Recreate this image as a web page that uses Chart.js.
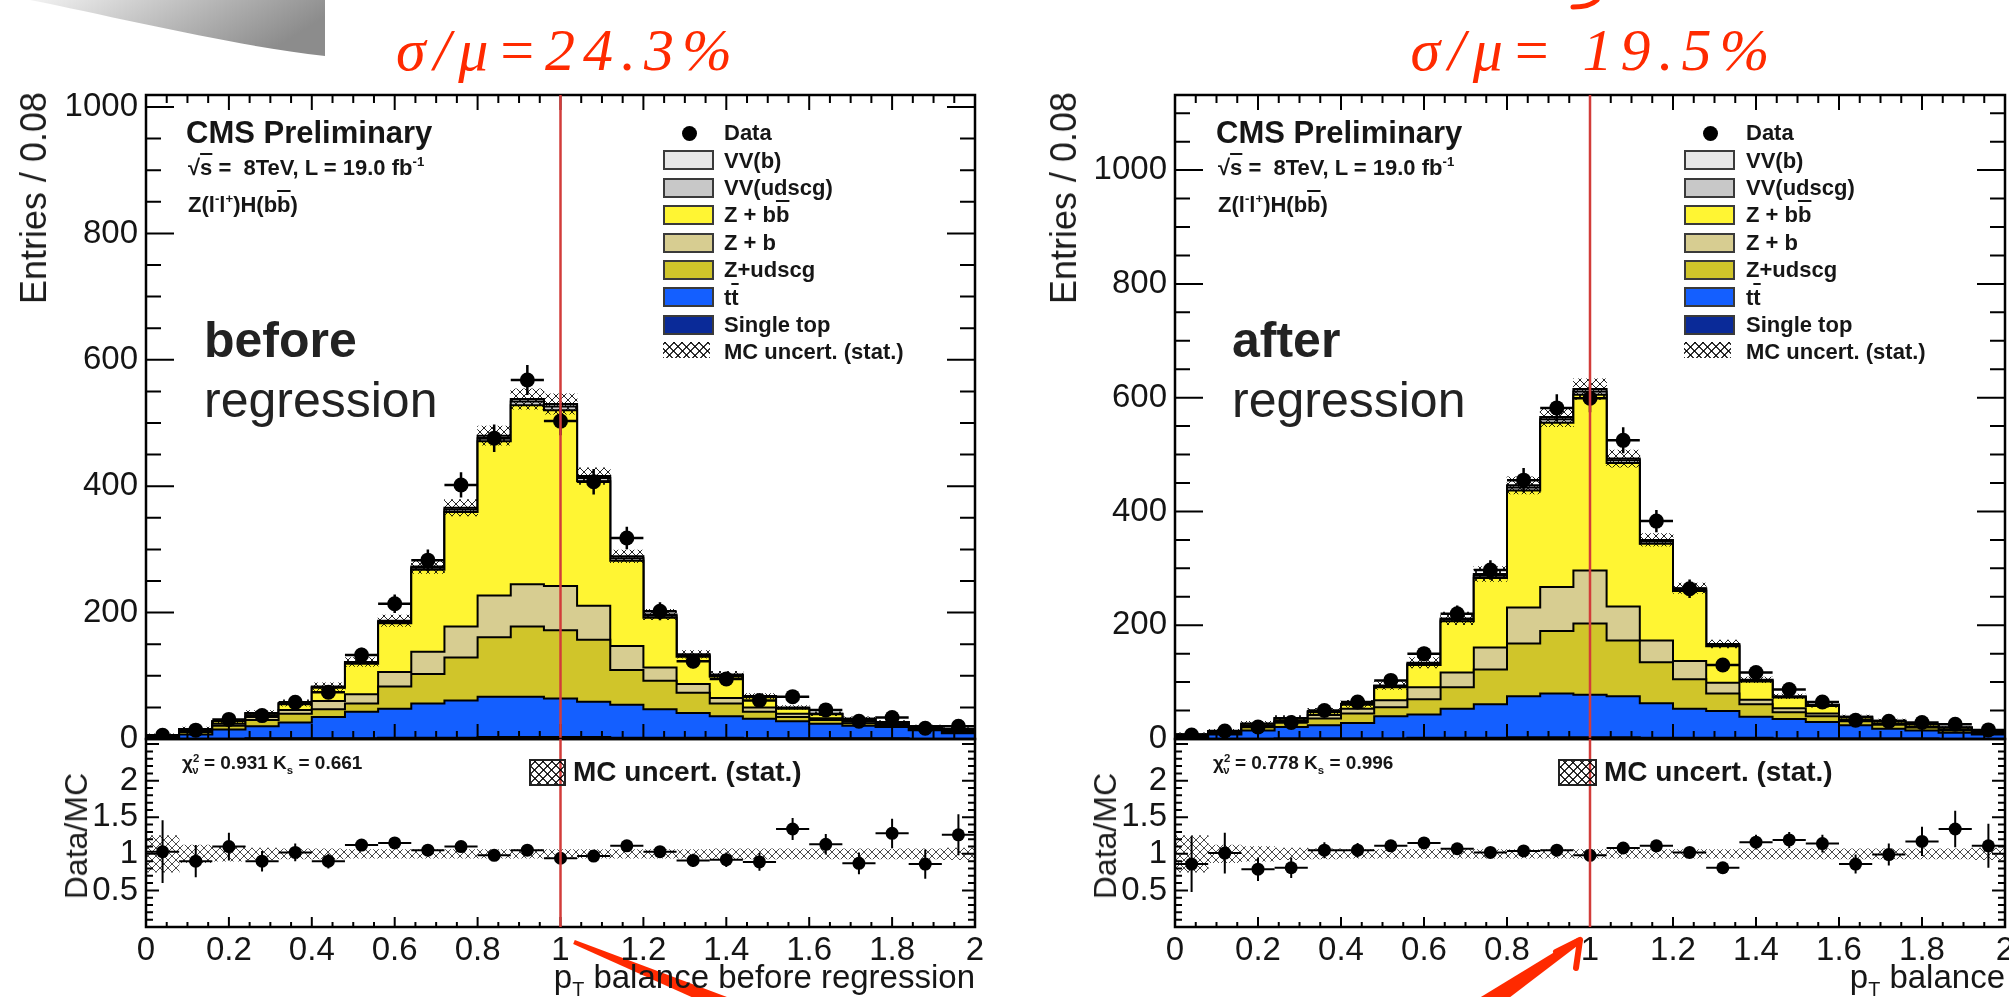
<!DOCTYPE html>
<html>
<head>
<meta charset="utf-8">
<title>pT balance before and after regression</title>
<script src="https://cdn.jsdelivr.net/npm/chart.js@4.4.1/dist/chart.umd.min.js"></script>
<style>
  html, body { margin: 0; padding: 0; background: #fff; }
  #page { position: relative; width: 2009px; height: 997px; overflow: hidden; background: #fff;
          font-family: "Liberation Sans", Arial, Helvetica, sans-serif; color: #161616; }
  #page canvas { position: absolute; }
  .txt { position: absolute; white-space: nowrap; line-height: 1; }
  .b { font-weight: bold; }
  .ov { text-decoration: overline; }
  .sup { font-size: 0.6em; position: relative; top: -0.65em; }
  .sub { font-size: 0.6em; position: relative; top: 0.4em; }
  .ytitle { position: absolute; white-space: nowrap; line-height: 1; writing-mode: vertical-rl; transform: rotate(180deg); color: #1c1c1c; }
  .swatch { position: absolute; width: 47px; height: 16px; border: 2px solid #3a3a3a; }
  .hatch { background:
      repeating-linear-gradient(45deg, rgba(0,0,0,.8) 0 1.2px, transparent 1.2px 6px),
      repeating-linear-gradient(-45deg, rgba(0,0,0,.8) 0 1.2px, transparent 1.2px 6px); }
  .dot { position: absolute; width: 15px; height: 15px; border-radius: 50%; background: #000; }
  .hand { position: absolute; width: 500px; text-align: center; line-height: 1; color: #ff2a00;
          font-family: "Liberation Serif", "DejaVu Serif", serif; font-style: italic; font-size: 60px; letter-spacing: 8px; }
  #deco { position: absolute; left: 0; top: 0; }
</style>
</head>
<body>
<div id="page">
  <svg id="deco" width="2009" height="997">
    <defs>
      <linearGradient id="curl" x1="0" y1="0" x2="1" y2="0.3">
        <stop offset="0" stop-color="#f2f2f2"/>
        <stop offset="0.6" stop-color="#b4b4b4"/>
        <stop offset="1" stop-color="#8c8c8c"/>
      </linearGradient>
    </defs>
    <path d="M30 0 L325 0 L325 56 C235 46 120 18 30 0 Z" fill="url(#curl)"/>
    <path d="M1597 0 Q1590 7 1573 7" stroke="#ff2a00" stroke-width="5" fill="none" stroke-linecap="round"/>
    <polygon points="574.8,940.1 743,1003 737,1017.4 573.2,943.9" fill="#ff2a00"/>
    <polygon points="1581.7,942.5 1490.1,1012.4 1479.9,997.6 1578.3,937.5" fill="#ff2a00"/>
    <path d="M1580 940 L1576 968 M1580 940 L1556 952" stroke="#ff2a00" stroke-width="6" fill="none" stroke-linecap="round"/>
  </svg>

  <canvas id="cUL" width="1000" height="769" style="left:0;top:0"></canvas>
  <canvas id="cLL" width="1000" height="297" style="left:0;top:700px"></canvas>
  <canvas id="cUR" width="1040" height="769" style="left:1000px;top:0"></canvas>
  <canvas id="cLR" width="1040" height="297" style="left:1000px;top:700px"></canvas>

  <div class="hand" style="left:318px;top:20px">σ/μ=24.3%</div>
  <div class="hand" style="left:1344px;top:20px">σ/μ= 19.5%</div>

  <div class="ytitle" style="left:16px;top:92px;font-size:36px">Entries / 0.08</div>
  <div class="ytitle" style="left:60px;top:773px;font-size:32px">Data/MC</div>
  <div class="ytitle" style="left:1046px;top:92px;font-size:36px">Entries / 0.08</div>
  <div class="ytitle" style="left:1089px;top:773px;font-size:32px">Data/MC</div>

  <div class="txt b" style="left:186px;top:117px;font-size:31px">CMS Preliminary</div>
  <div class="txt b" style="left:188px;top:157px;font-size:22px">√<span class="ov">s</span> =&nbsp; 8TeV, L = 19.0 fb<span class="sup">-1</span></div>
  <div class="txt b" style="left:188px;top:194px;font-size:22px">Z(l<span class="sup">-</span>l<span class="sup">+</span>)H(b<span class="ov">b</span>)</div>
  <div class="txt b" style="left:204px;top:315px;font-size:50px;color:#222">before</div>
  <div class="txt" style="left:204px;top:375px;font-size:50px;color:#222">regression</div>

  <div class="txt b" style="left:1216px;top:117px;font-size:31px">CMS Preliminary</div>
  <div class="txt b" style="left:1218px;top:157px;font-size:22px">√<span class="ov">s</span> =&nbsp; 8TeV, L = 19.0 fb<span class="sup">-1</span></div>
  <div class="txt b" style="left:1218px;top:194px;font-size:22px">Z(l<span class="sup">-</span>l<span class="sup">+</span>)H(b<span class="ov">b</span>)</div>
  <div class="txt b" style="left:1232px;top:315px;font-size:50px;color:#222">after</div>
  <div class="txt" style="left:1232px;top:375px;font-size:50px;color:#222">regression</div>

  <div class="txt b" style="left:182px;top:753px;font-size:19px">χ<span class="sup">2</span><span class="sub" style="margin-left:-7px">ν</span> = 0.931 K<span class="sub">s</span> = 0.661</div>
  <div class="swatch hatch" style="left:529px;top:759px;width:33px;height:23px;border-width:2px;border-color:#222"></div>
  <div class="txt b" style="left:573px;top:758px;font-size:28px">MC uncert. (stat.)</div>

  <div class="txt b" style="left:1213px;top:753px;font-size:19px">χ<span class="sup">2</span><span class="sub" style="margin-left:-7px">ν</span> = 0.778 K<span class="sub">s</span> = 0.996</div>
  <div class="swatch hatch" style="left:1558px;top:759px;width:35px;height:23px;border-width:2px;border-color:#222"></div>
  <div class="txt b" style="left:1604px;top:758px;font-size:28px">MC uncert. (stat.)</div>

  <div class="txt" style="right:1034px;top:960px;font-size:33px">p<span class="sub">T</span> balance before regression</div>
  <div class="txt" style="right:4px;top:960px;font-size:33px">p<span class="sub">T</span> balance</div>
</div>

<script>
// bin edges of pT balance, width 0.08
const binEdges = [0, 0.08, 0.16, 0.24, 0.32, 0.4, 0.48, 0.56, 0.64, 0.72, 0.8, 0.88, 0.96,
                  1.04, 1.12, 1.2, 1.28, 1.36, 1.44, 1.52, 1.6, 1.68, 1.76, 1.84, 1.92, 2];
const xTickValues = [0, 0.2, 0.4, 0.6, 0.8, 1, 1.2, 1.4, 1.6, 1.8, 2];
const yTickValues = [0, 200, 400, 600, 800, 1000];
const ratioTickValues = [0.5, 1, 1.5, 2];

// stack order, bottom to top
const processNames = ['Single top', 'tt', 'Z+udscg', 'Z + b', 'Z + bb', 'VV(udscg)', 'VV(b)'];
const processColors = ['#0a2a98', '#145fff', '#d0c52a', '#d7cd91', '#fff533', '#c8c8c8', '#e6e6e6'];

// before regression
const beforeSingleTop = [0, 0, 0, 1, 1, 1, 1, 2, 2, 2, 3, 3, 3, 3, 2, 2, 2, 2, 1, 1, 1, 1, 1, 0, 0];
const beforeTTbar = [2, 7, 15, 19, 25, 34, 42, 46, 54, 59, 64, 64, 61, 56, 52, 45, 39, 34, 31, 27, 23, 20, 18, 14, 9];
const beforeZudscg = [1, 4, 6, 10, 14, 12, 13, 35, 47, 68, 94, 111, 108, 98, 55, 45, 32, 20, 11, 7, 6, 4, 3, 2, 2];
const beforeZb = [1, 2, 3, 5, 6, 13, 15, 23, 35, 49, 66, 67, 70, 54, 38, 21, 14, 9, 7, 5, 3, 3, 2, 2, 2];
const beforeZbb = [2, 3, 4, 5, 9, 21, 48, 77, 130, 181, 244, 283, 278, 197, 135, 79, 43, 34, 16, 8, 6, 3, 3, 2, 3];
const beforeVVudscg = [0, 0, 0, 1, 1, 1, 2, 2, 3, 4, 5, 6, 6, 5, 4, 3, 2, 2, 1, 1, 1, 1, 0, 0, 0];
const beforeVVb = [0, 0, 0, 0, 1, 1, 1, 2, 2, 3, 4, 4, 4, 3, 3, 2, 2, 1, 1, 1, 0, 0, 0, 0, 0];
const beforeMcErr = [2, 3, 3, 4, 5, 6, 7, 9, 11, 13, 15, 16, 16, 13, 10, 8, 6, 5, 4, 3, 3, 3, 2, 2, 2];
const beforeData = [6, 14, 31, 37, 58, 74, 133, 214, 283, 402, 476, 568, 503, 407, 318, 202, 123, 95, 61, 67, 46, 28, 34, 17, 20];
const beforeDataErr = [2.5, 3.7, 5.6, 6.1, 7.6, 8.6, 11.5, 14.6, 16.8, 20, 21.8, 23.8, 22.4, 20.2, 17.8, 14.2, 11.1, 9.7, 7.8, 8.2, 6.8, 5.3, 5.8, 4.1, 4.5];
const beforeRatio = [1.03, 0.90, 1.10, 0.90, 1.02, 0.90, 1.12, 1.15, 1.05, 1.10, 0.98, 1.05, 0.94, 0.97, 1.11, 1.03, 0.91, 0.92, 0.89, 1.34, 1.13, 0.87, 1.28, 0.86, 1.26];
const beforeRatioErr = [0.43, 0.22, 0.19, 0.14, 0.12, 0.1, 0.08, 0.07, 0.06, 0.05, 0.05, 0.04, 0.04, 0.05, 0.06, 0.07, 0.09, 0.1, 0.12, 0.15, 0.14, 0.15, 0.2, 0.2, 0.28];
const beforeBand = [0.25, 0.12, 0.1, 0.08, 0.07, 0.07, 0.06, 0.06, 0.06, 0.06, 0.06, 0.06, 0.06, 0.06, 0.06, 0.06, 0.06, 0.07, 0.07, 0.07, 0.07, 0.07, 0.07, 0.07, 0.08];

// after regression
const afterSingleTop = [0, 0, 0, 1, 1, 1, 1, 2, 2, 2, 3, 3, 3, 3, 2, 2, 2, 2, 1, 1, 1, 1, 1, 0, 0];
const afterTTbar = [3, 8, 15, 20, 23, 27, 39, 41, 51, 59, 72, 77, 75, 72, 61, 51, 47, 37, 34, 29, 23, 17, 14, 11, 8];
const afterZudscg = [2, 2, 7, 9, 12, 17, 16, 27, 38, 61, 93, 110, 125, 98, 72, 52, 31, 22, 12, 10, 7, 7, 5, 4, 2];
const afterZb = [1, 1, 2, 3, 6, 8, 12, 21, 26, 39, 63, 77, 93, 60, 38, 32, 19, 8, 7, 5, 3, 2, 2, 2, 2];
const afterZbb = [2, 3, 3, 3, 5, 7, 23, 39, 90, 122, 206, 289, 309, 252, 170, 123, 64, 32, 19, 13, 4, 4, 4, 3, 2];
const afterVVudscg = [0, 0, 0, 1, 1, 1, 2, 2, 3, 4, 5, 6, 6, 5, 4, 3, 2, 2, 1, 1, 1, 1, 0, 0, 0];
const afterVVb = [0, 0, 0, 0, 1, 1, 1, 2, 2, 3, 4, 4, 4, 3, 3, 2, 2, 1, 1, 1, 0, 0, 0, 0, 0];
const afterMcErr = [3, 3, 4, 4, 5, 6, 7, 9, 11, 13, 15, 17, 18, 15, 11, 9, 7, 5, 4, 4, 3, 3, 2, 2, 2];
const afterData = [7, 14, 21, 29, 50, 65, 103, 150, 220, 297, 455, 582, 599, 525, 383, 264, 130, 117, 87, 65, 33, 31, 29, 26, 16];
const afterDataErr = [2.6, 3.7, 4.6, 5.4, 7.1, 8.1, 10.1, 12.2, 14.8, 17.2, 21.3, 24.1, 24.5, 22.9, 19.6, 16.2, 11.4, 10.8, 9.3, 8.1, 5.7, 5.6, 5.4, 5.1, 4];
const afterRatio = [0.86, 1.01, 0.79, 0.81, 1.05, 1.05, 1.11, 1.15, 1.07, 1.02, 1.04, 1.05, 0.98, 1.08, 1.11, 1.02, 0.81, 1.16, 1.19, 1.14, 0.86, 0.99, 1.17, 1.34, 1.11];
const afterRatioErr = [0.38, 0.28, 0.16, 0.14, 0.11, 0.1, 0.08, 0.07, 0.06, 0.05, 0.04, 0.04, 0.04, 0.04, 0.05, 0.06, 0.08, 0.1, 0.11, 0.12, 0.13, 0.15, 0.2, 0.25, 0.3];
const afterBand = [0.25, 0.12, 0.1, 0.08, 0.07, 0.06, 0.06, 0.06, 0.06, 0.06, 0.06, 0.06, 0.06, 0.06, 0.06, 0.06, 0.06, 0.07, 0.07, 0.07, 0.07, 0.07, 0.07, 0.07, 0.08];

const binCenters = binEdges.slice(0, -1).map((e, i) => (e + binEdges[i + 1]) / 2);
const tickFont = { family: 'Liberation Sans', size: 33 };

// histogram outline as (x, y) corner points
function stepPoints(vals) {
  const pts = [{ x: binEdges[0], y: 0 }];
  vals.forEach(function(v, i) {
    pts.push({ x: binEdges[i], y: v });
    pts.push({ x: binEdges[i + 1], y: v });
  });
  pts.push({ x: binEdges[binEdges.length - 1], y: 0 });
  return pts;
}

function makeHatch(ctx, color) {
  const tile = document.createElement('canvas');
  tile.width = 8;
  tile.height = 8;
  const g = tile.getContext('2d');
  g.strokeStyle = color;
  g.lineWidth = 1;
  g.beginPath();
  g.moveTo(0, 0); g.lineTo(8, 8);
  g.moveTo(8, 0); g.lineTo(0, 8);
  g.stroke();
  return ctx.createPattern(tile, 'repeat');
}

// ROOT-like frame, inward ticks, error bars and the red marker line
const rootStyle = {
  id: 'rootStyle',
  afterDatasetsDraw(chart, args, o) {
    const ctx = chart.ctx;
    const a = chart.chartArea;
    const xs = chart.scales.x, ys = chart.scales.y;
    ctx.save();
    ctx.strokeStyle = '#000';

    chart.data.datasets.forEach(function(ds) {
      if (!ds.yErrors) return;
      ctx.lineWidth = o.errWidth;
      ds.data.forEach(function(p, i) {
        const px = xs.getPixelForValue(p.x), py = ys.getPixelForValue(p.y);
        ctx.beginPath();
        ctx.moveTo(xs.getPixelForValue(p.x - ds.xHalf), py);
        ctx.lineTo(xs.getPixelForValue(p.x + ds.xHalf), py);
        ctx.moveTo(px, Math.max(a.top, ys.getPixelForValue(p.y + ds.yErrors[i])));
        ctx.lineTo(px, ys.getPixelForValue(p.y - ds.yErrors[i]));
        ctx.stroke();
      });
    });

    ctx.lineWidth = 2;
    const nx = Math.round((xs.max - xs.min) / o.xMinor);
    for (let i = 0; i <= nx; i++) {
      const v = xs.min + i * o.xMinor;
      const major = Math.abs(v / o.xMajor - Math.round(v / o.xMajor)) < 1e-6;
      const len = major ? o.xLen[0] : o.xLen[1];
      const px = xs.getPixelForValue(v);
      ctx.beginPath();
      if (o.xTop) { ctx.moveTo(px, a.top); ctx.lineTo(px, a.top + len); }
      ctx.moveTo(px, a.bottom); ctx.lineTo(px, a.bottom - len);
      ctx.stroke();
    }
    const ny = Math.floor((ys.max - ys.min) / o.yMinor + 1e-6);
    for (let i = 0; i <= ny; i++) {
      const v = ys.min + i * o.yMinor;
      const major = Math.abs(v / o.yMajor - Math.round(v / o.yMajor)) < 1e-6;
      const len = major ? o.yLen[0] : o.yLen[1];
      const py = ys.getPixelForValue(v);
      ctx.beginPath();
      ctx.moveTo(a.left, py); ctx.lineTo(a.left + len, py);
      ctx.moveTo(a.right, py); ctx.lineTo(a.right - len, py);
      ctx.stroke();
    }

    ctx.lineWidth = 2.5;
    ctx.strokeRect(a.left, a.top, a.right - a.left, a.bottom - a.top);

    const lx = xs.getPixelForValue(o.vline);
    ctx.strokeStyle = '#d23c3a';
    ctx.lineWidth = 2.5;
    ctx.beginPath();
    ctx.moveTo(lx, a.top);
    ctx.lineTo(lx, a.bottom);
    ctx.stroke();
    ctx.restore();
  }
};

function yAxis(max, width, ticks) {
  return {
    type: 'linear', min: 0, max: max,
    afterFit: function(axis) { axis.width = width; },
    afterBuildTicks: function(axis) { axis.ticks = ticks.map(v => ({ value: v })); },
    grid: { display: false, drawTicks: false },
    border: { display: false },
    ticks: { font: tickFont, color: '#151515', padding: 8, callback: v => String(v) }
  };
}

function upperPanel(id, yMax, axisWidth, padRight, comps, mcErr, data, dataErr) {
  const ctx = document.getElementById(id).getContext('2d');
  const layers = [];
  let run = comps[0].map(() => 0);
  comps.forEach(function(c) {
    run = run.map((v, i) => v + c[i]);
    layers.push(run);
  });
  const total = layers[layers.length - 1];

  const datasets = layers.map(function(cum, k) {
    return {
      type: 'line', label: processNames[k], data: stepPoints(cum), fill: 'origin',
      backgroundColor: processColors[k], borderColor: '#000', borderWidth: 2,
      pointRadius: 0, order: 10 + k
    };
  });
  datasets.push({
    type: 'bar', label: 'MC uncert. (stat.)',
    data: binCenters.map((c, i) => ({ x: c, y: [total[i] - mcErr[i], total[i] + mcErr[i]] })),
    backgroundColor: makeHatch(ctx, 'rgba(0,0,0,0.85)'), borderWidth: 0,
    barPercentage: 1, categoryPercentage: 1, order: 2
  });
  datasets.push({
    type: 'scatter', label: 'Data', showLine: false,
    data: binCenters.map((c, i) => ({ x: c, y: data[i] })),
    pointRadius: 7.5, pointBackgroundColor: '#000', pointBorderWidth: 0,
    yErrors: dataErr, xHalf: 0.04, order: 0
  });

  new Chart(ctx, {
    type: 'line',
    data: { datasets: datasets },
    options: {
      responsive: false, animation: false, events: [],
      layout: { padding: { top: 95, right: padRight, bottom: 30, left: 0 } },
      plugins: {
        legend: { display: false }, tooltip: { enabled: false },
        rootStyle: { xMinor: 0.05, xMajor: 0.2, xLen: [15, 8], xTop: true,
                     yMinor: 50, yMajor: 200, yLen: [28, 15], errWidth: 2.5, vline: 1 }
      },
      scales: {
        x: { type: 'linear', min: 0, max: 2, display: false, offset: false,
             afterBuildTicks: function(axis) { axis.ticks = xTickValues.map(v => ({ value: v })); } },
        y: yAxis(yMax, axisWidth, yTickValues)
      }
    },
    plugins: [rootStyle]
  });
}

function ratioPanel(id, axisWidth, padRight, ratio, ratioErr, band) {
  const ctx = document.getElementById(id).getContext('2d');
  const datasets = [{
    type: 'bar', label: 'MC uncert. (stat.)',
    data: binCenters.map((c, i) => ({ x: c, y: [1 - band[i], 1 + band[i]] })),
    backgroundColor: makeHatch(ctx, 'rgba(30,30,30,0.8)'), borderWidth: 0,
    barPercentage: 1, categoryPercentage: 1, order: 2
  }, {
    type: 'scatter', label: 'Data/MC', showLine: false,
    data: binCenters.map((c, i) => ({ x: c, y: ratio[i] })),
    pointRadius: 6.5, pointBackgroundColor: '#000', pointBorderWidth: 0,
    yErrors: ratioErr, xHalf: 0.04, order: 0
  }];

  new Chart(ctx, {
    type: 'line',
    data: { datasets: datasets },
    options: {
      responsive: false, animation: false, events: [],
      layout: { padding: { top: 39, right: padRight, bottom: 0, left: 0 } },
      plugins: {
        legend: { display: false }, tooltip: { enabled: false },
        rootStyle: { xMinor: 0.05, xMajor: 0.2, xLen: [10, 5], xTop: false,
                     yMinor: 0.1, yMajor: 0.5, yLen: [13, 7], errWidth: 2, vline: 1 }
      },
      scales: {
        x: {
          type: 'linear', min: 0, max: 2, offset: false,
          afterFit: function(axis) { axis.height = 70; },
          afterBuildTicks: function(axis) { axis.ticks = xTickValues.map(v => ({ value: v })); },
          grid: { display: false, drawTicks: false },
          border: { display: false },
          ticks: { font: tickFont, color: '#151515', padding: 4, maxRotation: 0, autoSkip: false,
                   callback: v => String(v) }
        },
        y: yAxis(2.57, axisWidth, ratioTickValues)
      }
    },
    plugins: [rootStyle]
  });
}

upperPanel('cUL', 1019, 146, 25,
  [beforeSingleTop, beforeTTbar, beforeZudscg, beforeZb, beforeZbb, beforeVVudscg, beforeVVb],
  beforeMcErr, beforeData, beforeDataErr);
ratioPanel('cLL', 146, 25, beforeRatio, beforeRatioErr, beforeBand);
upperPanel('cUR', 1132, 175, 35,
  [afterSingleTop, afterTTbar, afterZudscg, afterZb, afterZbb, afterVVudscg, afterVVb],
  afterMcErr, afterData, afterDataErr);
ratioPanel('cLR', 175, 35, afterRatio, afterRatioErr, afterBand);

// legends inside the upper panels
const legendRows = [
  { html: 'Data', kind: 'dot' },
  { html: 'VV(b)', color: processColors[6] },
  { html: 'VV(udscg)', color: processColors[5] },
  { html: 'Z + b<span class="ov">b</span>', color: processColors[4] },
  { html: 'Z + b', color: processColors[3] },
  { html: 'Z+udscg', color: processColors[2] },
  { html: 't<span class="ov">t</span>', color: processColors[1] },
  { html: 'Single top', color: processColors[0] },
  { html: 'MC uncert. (stat.)', kind: 'hatch' }
];
function addLegend(swatchX, textX, dotX) {
  const page = document.getElementById('page');
  legendRows.forEach(function(row, i) {
    const cy = 133 + i * 27.4;
    let el = document.createElement('div');
    if (row.kind === 'dot') {
      el.className = 'dot';
      el.style.left = (dotX - 7.5) + 'px';
      el.style.top = (cy - 7.5) + 'px';
    } else {
      el.className = row.kind === 'hatch' ? 'swatch hatch' : 'swatch';
      if (row.kind === 'hatch') el.style.border = 'none';
      else el.style.background = row.color;
      el.style.left = swatchX + 'px';
      el.style.top = (cy - 10) + 'px';
    }
    page.appendChild(el);
    const t = document.createElement('div');
    t.className = 'txt b';
    t.style.fontSize = '22px';
    t.style.left = textX + 'px';
    t.style.top = (cy - 10.8) + 'px';
    t.innerHTML = row.html;
    page.appendChild(t);
  });
}
addLegend(663, 724, 689);
addLegend(1684, 1746, 1710);
</script>
</body>
</html>
